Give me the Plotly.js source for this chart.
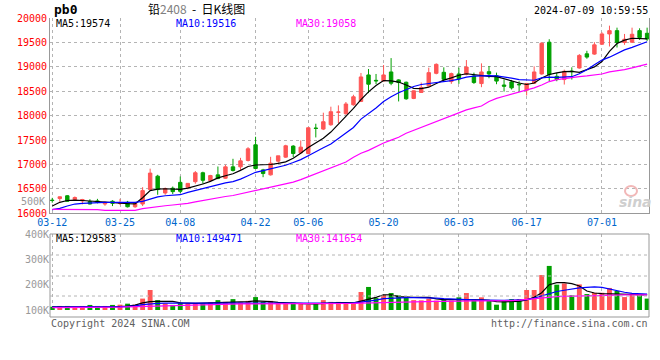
<!DOCTYPE html>
<html><head><meta charset="utf-8">
<script src="https://cdn.plot.ly/plotly-3.0.1.min.js"></script>
<style>html,body{margin:0;padding:0;background:#fff}#chart{width:660px;height:360px}</style>
</head><body><div id="chart"></div>
<script>
const dates=["03-12","03-13","03-14","03-15","03-18","03-19","03-20","03-21","03-22","03-25","03-26","03-27","03-28","03-29",
"04-01","04-02","04-03","04-08","04-09","04-10","04-11","04-12","04-15","04-16","04-17","04-18","04-19","04-22","04-23","04-24","04-25","04-26","04-29","04-30",
"05-06","05-07","05-08","05-09","05-10","05-13","05-14","05-15","05-16","05-17","05-20","05-21","05-22","05-23","05-24","05-27","05-28","05-29","05-30","05-31",
"06-03","06-04","06-05","06-06","06-07","06-11","06-12","06-13","06-14","06-17","06-18","06-19","06-20","06-21","06-24","06-25","06-26","06-27","06-28",
"07-01","07-02","07-03","07-04","07-05","07-08","07-09"];
const tickDates=["03-12","03-25","04-08","04-22","05-06","05-20","06-03","06-17","07-01"];
const openP=[16270,16303,16359,16282,16254,16240,16254,16190,16247,16204,16226,16134,16190,16486,16761,16416,16514,16634,16536,16648,
16831,16671,16788,16719,16952,16952,17082,17404,16890,16788,17069,17151,17377,17240,17226,17747,17726,17815,18070,18041,
18225,18293,18836,18725,18713,18897,18734,18686,18354,18476,18612,18869,18890,18700,18856,18849,18815,18659,18903,18820,
18630,18693,18645,18524,18666,18856,19507,18808,18741,18915,18978,19269,19263,19466,19676,19744,19500,19507,19744,19690];
const highP=[16317,16345,16373,16345,16296,16289,16296,16240,16268,16296,16254,16233,16535,16915,16789,16528,16549,16754,16620,16866,
16852,16788,16959,16993,17117,17137,17356,17569,16911,17158,17178,17404,17397,17493,17753,17836,18062,18185,18212,18281,
18429,18876,18958,18856,19039,19181,18747,18700,18520,18680,18985,19073,18992,18883,18985,19141,18883,19073,19019,18883,
18740,18734,18707,18673,19012,19507,19568,18876,18944,18992,19263,19331,19507,19710,19846,19805,19676,19805,19792,19805];
const lowP=[16218,16240,16233,16254,16183,16183,16204,16155,16148,16169,16120,16113,16148,16472,16380,16380,16394,16416,16493,16606,
16606,16644,16699,16706,16856,16890,17062,16904,16740,16774,17034,17137,17151,17226,17206,17555,17706,17795,17849,18021,
18205,18280,18463,18646,18700,18625,18293,18327,18340,18470,18598,18849,18720,18653,18653,18829,18653,18585,18768,18646,
18495,18537,18490,18415,18653,18842,18707,18707,18639,18741,18964,19168,19249,19453,19419,19398,19453,19493,19554,19534];
const closeP=[16262,16338,16247,16324,16282,16190,16226,16226,16204,16212,16134,16204,16465,16824,16486,16507,16444,16451,16613,16831,
16676,16774,16712,16952,16877,17075,17322,16918,16815,17027,17178,17384,17226,17356,17753,17740,17877,18082,18075,18240,
18388,18795,18646,18715,18836,18666,18680,18347,18510,18578,18883,19053,18747,18863,18754,18998,18680,18897,18856,18710,
18605,18571,18635,18659,18897,19486,18842,18741,18910,18905,19236,19202,19453,19676,19744,19500,19568,19670,19602,19575];
const ma5=[16150,16225,16262,16272,16262,16250,16240,16230,16220,16205,16198,16195,16320,16465,16495,16503,16500,16491,16515,16555,
16600,16655,16725,16770,16810,16880,16960,16990,16993,17000,17025,17055,17130,17230,17350,17450,17540,17665,17820,17985,
18150,18330,18490,18620,18720,18715,18690,18630,18560,18555,18585,18660,18730,18775,18830,18860,18840,18815,18805,18800,
18755,18715,18670,18640,18670,18775,18845,18880,18905,18910,18890,18944,19000,19110,19320,19480,19550,19588,19588,19574];
const ma10=[16075,16102,16150,16190,16205,16215,16220,16225,16225,16222,16218,16225,16245,16290,16335,16360,16370,16381,16430,16470,
16500,16550,16590,16625,16650,16700,16770,16840,16875,16910,16950,16985,17040,17100,17180,17270,17345,17420,17530,17640,
17760,17930,18040,18160,18290,18390,18470,18540,18600,18640,18660,18680,18690,18720,18750,18790,18810,18820,18822,18815,
18800,18770,18740,18727,18727,18775,18790,18788,18788,18800,18860,18944,19046,19140,19200,19270,19350,19400,19450,19516];
const ma30=[16082,16082,16082,16082,16082,16082,16075,16060,16058,16058,16058,16060,16095,16120,16140,16155,16170,16185,16205,16235,
16265,16295,16320,16345,16365,16400,16430,16460,16495,16530,16570,16610,16640,16690,16750,16820,16880,16940,16990,17050,
17150,17230,17290,17370,17440,17500,17560,17640,17700,17760,17820,17880,17940,17990,18060,18120,18160,18200,18290,18355,
18400,18440,18480,18520,18570,18630,18700,18740,18765,18785,18800,18815,18835,18855,18900,18920,18945,18980,19020,19058];
const volume=[113000,116000,116000,111000,116000,120000,116000,116000,120000,121000,125000,121000,145000,179000,139000,126000,120000,129000,126000,128000,
126000,130000,139000,132000,143000,130000,136000,151000,132000,136000,128000,126000,129000,128000,121000,124000,139000,132000,132000,126000,
126000,171000,191000,147000,158000,167000,158000,150000,139000,138000,145000,137000,141000,137000,150000,167000,141000,150000,136000,121000,
136000,143000,143000,179000,179000,238000,274000,200000,205000,158000,201000,163000,168000,168000,187000,175000,151000,164000,158000,145000];
const volMa5=[112000,112000,113000,113000,113000,114000,114000,113000,114000,113000,115000,119000,128000,133000,134000,134000,134000,128000,126000,126000,
127000,128000,130000,131000,131000,130000,133000,136000,135000,133000,130000,128000,126000,125000,124000,124000,126000,128000,129000,129000,
128000,135000,142000,150000,160000,160000,153000,151000,150000,150000,150000,144000,141000,141000,141000,142000,141000,140000,138000,133000,
132000,132000,134000,140000,150000,168000,200000,208000,208000,204000,195000,175000,167000,165000,164000,164000,164000,163000,162000,160000];
const volMa10=[111000,111000,112000,112000,112000,112000,113000,113000,113000,113000,114000,116000,121000,124000,126000,127000,127000,127000,128000,128000,
128000,129000,129000,129000,129000,129000,129000,129000,129000,129000,128000,128000,128000,128000,128000,128000,128000,128000,128000,128000,
128000,131000,134000,139000,145000,147000,149000,149000,149000,149000,149000,147000,145000,143000,142000,141000,140000,139000,138000,138000,
138000,139000,140000,141000,147000,156000,167000,173000,178000,183000,187000,189000,191000,189000,182000,175000,170000,166000,164000,163000];
const volMa30=[109000,109000,109000,110000,110000,110000,110000,110000,111000,111000,112000,113000,114000,115000,116000,117000,118000,119000,120000,121000,
121000,122000,122000,123000,123000,124000,124000,124000,124000,124000,124000,124000,125000,125000,125000,125000,125000,125000,126000,126000,
126000,127000,128000,129000,130000,131000,132000,132000,133000,133000,134000,134000,134000,135000,135000,135000,136000,136000,136000,137000,
137000,137000,139000,142000,145000,148000,151000,153000,154000,155000,157000,158000,158000,159000,159000,160000,160000,160000,160000,160000];
const priceTicks=[16000,16500,17000,17500,18000,18500,19000,19500,20000];
const volTickVals=[100000,200000,300000,400000];
const volTickText=["100K","200K","300K","400K"];
const volLegend={ma5:129583,ma10:149471,ma30:141654};

const RED='#ff5555', GREEN='#00a000';
const volColors=closeP.map((c,i)=>c>=openP[i]?RED:GREEN);
const MONO='DejaVu Sans Mono, monospace';

const traces=[
 {type:'candlestick',x:dates,open:openP,high:highP,low:lowP,close:closeP,xaxis:'x',yaxis:'y',
  increasing:{line:{color:RED,width:1},fillcolor:RED},decreasing:{line:{color:GREEN,width:1},fillcolor:GREEN},
  whiskerwidth:0,hoverinfo:'skip',showlegend:false},
 {type:'scatter',mode:'lines',x:dates,y:ma5,line:{color:'#000000',width:1.2},xaxis:'x',yaxis:'y',hoverinfo:'skip'},
 {type:'scatter',mode:'lines',x:dates,y:ma10,line:{color:'#0000ff',width:1.2},xaxis:'x',yaxis:'y',hoverinfo:'skip'},
 {type:'scatter',mode:'lines',x:dates,y:ma30,line:{color:'#ff00ff',width:1.2},xaxis:'x',yaxis:'y',hoverinfo:'skip'},
 {type:'bar',x:dates,y:volume,marker:{color:volColors,line:{width:0}},xaxis:'x2',yaxis:'y2',hoverinfo:'skip'},
 {type:'scatter',mode:'lines',x:dates,y:volMa5,line:{color:'#000000',width:1.2},xaxis:'x2',yaxis:'y2',hoverinfo:'skip'},
 {type:'scatter',mode:'lines',x:dates,y:volMa10,line:{color:'#0000ff',width:1.2},xaxis:'x2',yaxis:'y2',hoverinfo:'skip'},
 {type:'scatter',mode:'lines',x:dates,y:volMa30,line:{color:'#ff00ff',width:1.2},xaxis:'x2',yaxis:'y2',hoverinfo:'skip'}
];

const PX=x=>(x-50)/599, PY=y=>(317-y)/299;
const grid='#b4b4b4';
const layout={
 width:660,height:360,margin:{l:50,r:11,t:18,b:43,pad:0},
 paper_bgcolor:'#ffffff',plot_bgcolor:'#ffffff',showlegend:false,
 boxgap:0.35,bargap:0.35,
 xaxis:{type:'category',domain:[0,1],anchor:'y',range:[-0.3,79.25],tickmode:'array',tickvals:tickDates,ticktext:tickDates,
  tickfont:{family:MONO,size:10,color:'#0066cc'},ticks:'',showgrid:true,gridcolor:grid,griddash:'dot',gridwidth:1,
  showline:true,linecolor:'#999999',linewidth:1,rangeslider:{visible:false},fixedrange:true,zeroline:false},
 yaxis:{domain:[PY(213.3),1],anchor:'x',range:[16000,20003],tickmode:'array',tickvals:priceTicks,ticktext:priceTicks.map(String),
  tickfont:{family:MONO,size:10,color:'#ff0000'},ticks:'',showgrid:true,gridcolor:grid,griddash:'dot',
  showline:true,mirror:true,linecolor:'#999999',linewidth:1,zeroline:false,fixedrange:true},
 xaxis2:{type:'category',domain:[0,1],anchor:'y2',matches:'x',range:[-0.3,79.25],tickmode:'array',tickvals:tickDates,showticklabels:false,ticks:'',
  showgrid:true,gridcolor:grid,griddash:'dot',showline:false,zeroline:false,fixedrange:true},
 yaxis2:{domain:[PY(310),PY(234)],anchor:'x2',range:[100000,400000],tickmode:'array',tickvals:volTickVals,ticktext:volTickText,
  tickfont:{family:MONO,size:10,color:'#999999'},ticks:'',showgrid:false,showline:false,zeroline:false,fixedrange:true},
 shapes:[
  {type:'rect',xref:'paper',yref:'paper',x0:0,x1:1,y0:0,y1:PY(234),line:{color:'#999999',width:1}},
  {type:'line',xref:'paper',yref:'paper',x0:0,x1:1,y0:PY(255),y1:PY(255),line:{color:grid,width:1,dash:'dot'}},
  {type:'line',xref:'paper',yref:'paper',x0:0,x1:1,y0:PY(276),y1:PY(276),line:{color:grid,width:1,dash:'dot'}},
  {type:'line',xref:'paper',yref:'paper',x0:0,x1:1,y0:PY(296),y1:PY(296),line:{color:grid,width:1,dash:'dot'}},
  {type:'circle',xref:'paper',yref:'paper',x0:PX(625),x1:PX(637),y0:PY(196),y1:PY(186),line:{color:'#f2b8b8',width:2},fillcolor:'rgba(0,0,0,0)'}
 ],
 annotations:[
  {text:'<b>pb0</b>',xref:'paper',yref:'paper',x:PX(52),y:PY(9),xanchor:'left',yanchor:'middle',showarrow:false,font:{family:MONO,size:13,color:'#000'}},
  {text:'铅<span style="color:#808080">2408</span>&nbsp;&nbsp;-&nbsp;&nbsp;日K线图',xref:'paper',yref:'paper',x:PX(196),y:PY(8.5),xanchor:'center',yanchor:'middle',showarrow:false,font:{family:'Noto Sans CJK SC',size:12,color:'#000'}},
  {text:'2024-07-09 10:59:55',xref:'paper',yref:'paper',x:PX(650),y:PY(10),xanchor:'right',yanchor:'middle',showarrow:false,font:{family:MONO,size:10,color:'#000'}},
  {text:'MA5:'+ma5[ma5.length-1],xref:'paper',yref:'paper',x:PX(54),y:PY(24),xanchor:'left',yanchor:'middle',showarrow:false,font:{family:MONO,size:10,color:'#000'}},
  {text:'MA10:'+ma10[ma10.length-1],xref:'paper',yref:'paper',x:PX(174),y:PY(24),xanchor:'left',yanchor:'middle',showarrow:false,font:{family:MONO,size:10,color:'#0000ff'}},
  {text:'MA30:'+ma30[ma30.length-1],xref:'paper',yref:'paper',x:PX(294),y:PY(24),xanchor:'left',yanchor:'middle',showarrow:false,font:{family:MONO,size:10,color:'#ff00ff'}},
  {text:'MA5:'+volLegend.ma5,xref:'paper',yref:'paper',x:PX(54),y:PY(238.5),xanchor:'left',yanchor:'middle',showarrow:false,font:{family:MONO,size:10,color:'#000'}},
  {text:'MA10:'+volLegend.ma10,xref:'paper',yref:'paper',x:PX(174),y:PY(238.5),xanchor:'left',yanchor:'middle',showarrow:false,font:{family:MONO,size:10,color:'#0000ff'}},
  {text:'MA30:'+volLegend.ma30,xref:'paper',yref:'paper',x:PX(294),y:PY(238.5),xanchor:'left',yanchor:'middle',showarrow:false,font:{family:MONO,size:10,color:'#ff00ff'}},
  {text:'500K',xref:'paper',yref:'paper',x:PX(47),y:PY(201),xanchor:'right',yanchor:'middle',showarrow:false,font:{family:MONO,size:10,color:'#999999'}},
  {text:'Copyright 2024 SINA.COM',xref:'paper',yref:'paper',x:PX(49),y:PY(323.5),xanchor:'left',yanchor:'middle',showarrow:false,font:{family:MONO,size:10,color:'#606060'}},
  {text:'http://finance.sina.com.cn',xref:'paper',yref:'paper',x:PX(650),y:PY(323.5),xanchor:'right',yanchor:'middle',showarrow:false,font:{family:MONO,size:10,color:'#606060'}},
  {text:'<b><i>sina</i></b>',xref:'paper',yref:'paper',x:PX(635),y:PY(202),xanchor:'center',yanchor:'middle',showarrow:false,font:{family:'DejaVu Sans',size:14,color:'#cfcfcf'}}
 ]
};
Plotly.newPlot('chart',traces,layout,{staticPlot:true,displayModeBar:false});
</script></body></html>
